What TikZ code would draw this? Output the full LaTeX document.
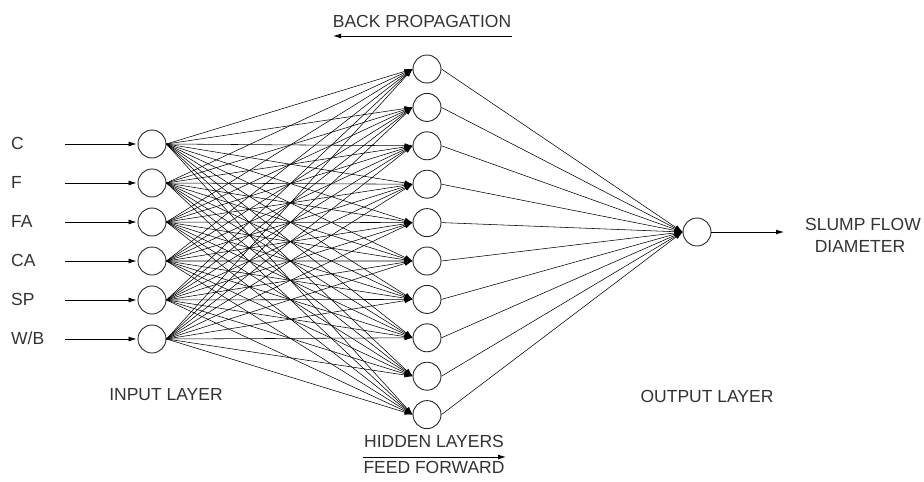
\documentclass[tikz,border=0pt]{standalone}
\usepackage{fontspec}
\setmainfont{Liberation Sans}
\usetikzlibrary{arrows.meta}
\begin{document}
\begin{tikzpicture}[x=1pt,y=-1pt,
  neuron/.style={circle,draw=black!85,line width=0.9pt,minimum size=28pt,inner sep=0pt},
  lbl/.style={font=\fontsize{17.5}{20}\selectfont,text=black!80,inner sep=0pt},
  link/.style={line width=0.55pt,draw=black},
  tip/.style={-{Latex[length=8pt,width=5pt]}},
]
\useasboundingbox (0,0) rectangle (924,482);
% input layer
\foreach \t [count=\i] in {C,F,FA,CA,SP,W/B} {
  \pgfmathsetmacro\yy{144+39*(\i-1)}
  \node[neuron] (i\i) at (152,\yy) {};
  \node[lbl,anchor=west] (l\i) at (11,\yy-1) {\t};
  \coordinate (s\i) at (65,\yy);
  \draw[link,line width=0.8pt,tip,shorten >=1pt] (s\i) -- (i\i.west);
}
% hidden layer
\foreach \j in {1,...,10} {
  \pgfmathsetmacro\yy{69+38.4*(\j-1)}
  \node[neuron] (h\j) at (427,\yy) {};
}
% output
\node[neuron] (o) at (697,232) {};
\coordinate (oe) at (784,232);
\draw[link,line width=0.8pt,tip] (o.east) -- (oe);
% connections
\foreach \i in {1,...,6} {
  \foreach \j in {1,...,10} {
    \draw[link,tip] (i\i.east) -- (h\j.west);
  }
}
\foreach \j in {1,...,10} {
  \draw[link,tip] (h\j.east) -- (o.west);
}
% labels
\node[lbl] (inl) at (166,395) {INPUT LAYER};
\node[lbl] (outl) at (707,396) {OUTPUT LAYER};
\node[lbl] (sf) at (863,224) {SLUMP FLOW};
\node[lbl] (dia) at (860,246) {DIAMETER};
\node[lbl] (bp) at (422,21) {BACK PROPAGATION};
\coordinate (bpa) at (512,36);
\coordinate (bpb) at (333,36);
\draw[link,line width=0.9pt,tip] (bpa) -- (bpb);
\node[lbl] (hl) at (434,441) {HIDDEN LAYERS};
\coordinate (ffa) at (363,457);
\coordinate (ffb) at (506,457);
\draw[link,line width=0.9pt,tip] (ffa) -- (ffb);
\node[lbl] (ff) at (434,467) {FEED FORWARD};
\end{tikzpicture}
\end{document}
